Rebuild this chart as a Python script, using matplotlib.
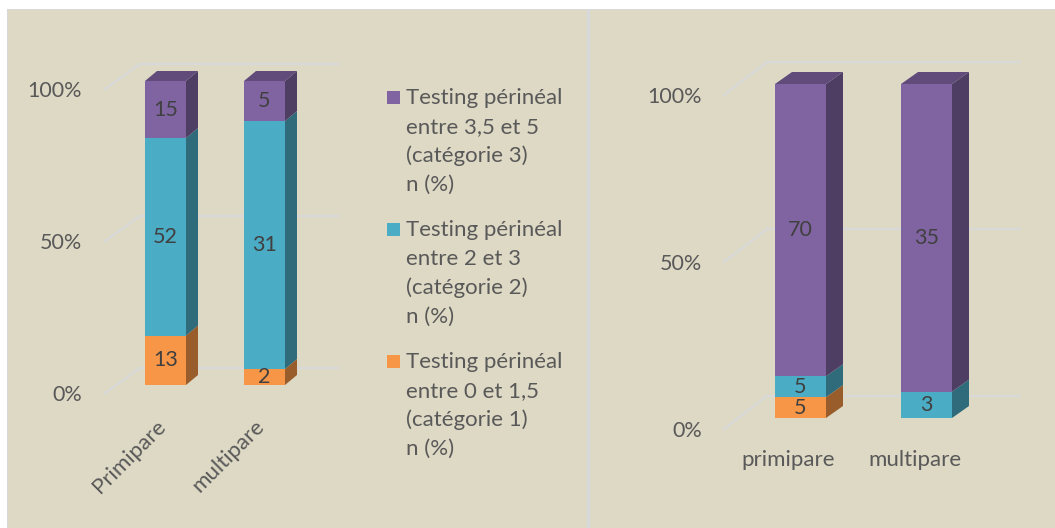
import matplotlib.pyplot as plt
import numpy as np
from matplotlib.patches import Polygon, Rectangle
from matplotlib.colors import to_rgb

# -----------------------------------------------------------------------------
# Data
# -----------------------------------------------------------------------------
categories_left = ["Primipare", "multipare"]
cat1_left = [13, 2]     # Testing périnéal entre 0 et 1,5
cat2_left = [52, 31]    # entre 2 et 3
cat3_left = [15, 5]     # entre 3,5 et 5

categories_right = ["primipare", "multipare"]
cat1_right = [5, 0]
cat2_right = [5, 3]
cat3_right = [70, 35]

tick_values = [0, 50, 100]
tick_labels = ["0%", "50%", "100%"]

series_labels = [
    "Testing périnéal\nentre 0 et 1,5\n(catégorie 1)\nn (%)",
    "Testing périnéal\nentre 2 et 3\n(catégorie 2)\nn (%)",
    "Testing périnéal\nentre 3,5 et 5\n(catégorie 3)\nn (%)",
]

# -----------------------------------------------------------------------------
# Style
# -----------------------------------------------------------------------------
W, H = 1055, 528
BG = "#DDD9C4"
BORDER = "#D6D8DC"
GRID = "#D9D9D9"
TICK_COL = "#595959"
LABEL_COL = "#404040"
COLOURS = ["#F79646", "#4BACC6", "#8064A2"]
FONT = ["Lato", "DejaVu Sans"]

plt.rcParams["font.family"] = FONT


def shade(c, f):
    r, g, b = to_rgb(c)
    return (r * f, g * f, b * f)


# layouts in pixels (top-left origin), converted to data units below
LEFT = dict(box=(8, 10, 587, 528), x0=165.5, step=99, base=385, scale=3.04,
            bar_w=41, depth=(12, 10), wall_x=(140, 339), wall_dy=17,
            front_x=105, front_dy=-8, tick_x=82, cat_dx=-10, cat_dy=-31, rot=45)
RIGHT = dict(box=(590, 10, 1055, 528), x0=800.5, step=126, base=418, scale=3.34,
             bar_w=51, depth=(17, 12), wall_x=(767, 1020), wall_dy=22,
             front_x=724, front_dy=-11, tick_x=702, cat_dx=-12, cat_dy=-42, rot=0)


def px_rect(x0, y0, x1, y1):
    return [x0 / W, 1 - y1 / H, (x1 - x0) / W, (y1 - y0) / H]


def draw_panel(fig, lay, categories, series):
    ax = fig.add_axes(px_rect(*lay["box"]))
    ax.axis("off")
    ax.patch.set_alpha(0)
    bx0, by0, bx1, by1 = lay["box"]
    step, sc = lay["step"], lay["scale"]
    ax.set_xlim((bx0 - lay["x0"]) / step, (bx1 - lay["x0"]) / step)
    ax.set_ylim((lay["base"] - by1) / sc, (lay["base"] - by0) / sc)

    w = lay["bar_w"] / step
    ddx, ddy = lay["depth"][0] / step, lay["depth"][1] / sc
    wall_l = (lay["wall_x"][0] - lay["x0"]) / step
    wall_r = (lay["wall_x"][1] - lay["x0"]) / step
    front_x = (lay["front_x"] - lay["x0"]) / step
    wdy, fdy = lay["wall_dy"] / sc, lay["front_dy"] / sc
    tick_x = (lay["tick_x"] - lay["x0"]) / step

    # back wall + floor gridlines
    for v, lab in zip(tick_values, tick_labels):
        ax.plot([wall_l, wall_r], [v + wdy, v + wdy], color=GRID, lw=1.6, zorder=1)
        ax.plot([front_x, wall_l], [v + fdy, v + wdy], color=GRID, lw=1.6, zorder=1)
        ax.text(tick_x, v + fdy - 0.5, lab, ha="right", va="center",
                color=TICK_COL, fontsize=15.5)

    counts = np.array(series, dtype=float)
    pct = counts / counts.sum(axis=0) * 100
    x = np.arange(len(categories))
    bottom = np.zeros(len(categories))
    n_series = len(series)
    for k in range(n_series):
        col = COLOURS[k]
        ax.bar(x, pct[k], w, bottom=bottom, color=col, zorder=3)
        for i in range(len(categories)):
            if counts[k, i] == 0:
                continue
            b, t = bottom[i], bottom[i] + pct[k, i]
            xr = x[i] + w / 2
            side = [(xr, b), (xr + ddx, b + ddy), (xr + ddx, t + ddy), (xr, t)]
            ax.add_patch(Polygon(side, closed=True, facecolor=shade(col, 0.62),
                                 edgecolor="none", zorder=2))
            if k == n_series - 1:
                xl = x[i] - w / 2
                top = [(xl, t), (xl + ddx, t + ddy), (xr + ddx, t + ddy), (xr, t)]
                ax.add_patch(Polygon(top, closed=True, facecolor=shade(col, 0.75),
                                     edgecolor="none", zorder=2))
            ax.text(x[i], (b + t) / 2, f"{int(counts[k, i])}", ha="center",
                    va="center", color=LABEL_COL, fontsize=15.5, zorder=4)
        bottom = bottom + pct[k]

    # category labels
    cdx, cdy = lay["cat_dx"] / step, lay["cat_dy"] / sc
    for i, c in enumerate(categories):
        if lay["rot"]:
            ax.text(x[i] + cdx, cdy, c, ha="right", va="top", rotation=lay["rot"],
                    rotation_mode="anchor", color=TICK_COL, fontsize=16)
        else:
            ax.text(x[i] + cdx, cdy, c, ha="center", va="center",
                    color=TICK_COL, fontsize=16)
    return ax


fig = plt.figure(figsize=(W / 100, H / 100), dpi=100, facecolor="white")

# panel backgrounds
bg = fig.add_axes([0, 0, 1, 1])
bg.set_xlim(0, W)
bg.set_ylim(H, 0)
bg.axis("off")
bg.add_patch(Rectangle((7, 9), 582, H - 9, facecolor=BORDER, edgecolor="none"))
bg.add_patch(Rectangle((589, 9), W - 589, H - 9, facecolor=BORDER, edgecolor="none"))
bg.add_patch(Rectangle((8, 10), 579, H - 10, facecolor=BG, edgecolor="none"))
bg.add_patch(Rectangle((590, 10), W - 590, H - 10, facecolor=BG, edgecolor="none"))

draw_panel(fig, LEFT, categories_left, [cat1_left, cat2_left, cat3_left])
draw_panel(fig, RIGHT, categories_right, [cat1_right, cat2_right, cat3_right])

# legend (left panel, top entry = catégorie 3)
y_first = 98
for j, k in enumerate(reversed(range(len(series_labels)))):
    y0 = y_first + j * 132
    bg.add_patch(Rectangle((387, y0 - 7), 13, 13, facecolor=COLOURS[k], edgecolor="none"))
    for li, line in enumerate(series_labels[k].split("\n")):
        bg.text(406, y0 + li * 29, line, ha="left", va="center",
                color=TICK_COL, fontsize=16)

fig.savefig("out.png", dpi=100, facecolor="white")
